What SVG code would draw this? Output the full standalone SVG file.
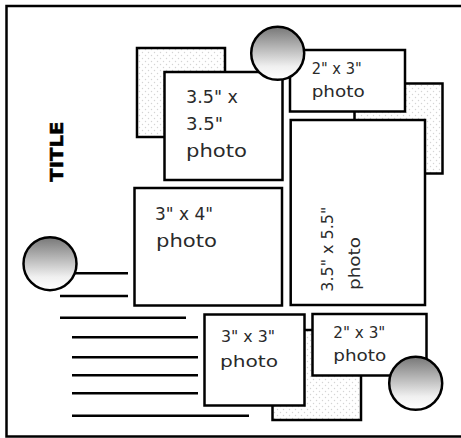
<svg xmlns="http://www.w3.org/2000/svg" width="461" height="438" viewBox="0 0 461 438">
<defs>
<style>
.mat{fill:url(#dots);stroke:#000;stroke-width:2.5}
.photo{fill:#fff;stroke:#000;stroke-width:2.5}
.emb{fill:url(#grad);stroke:#000;stroke-width:2.5}
.ln{stroke:#000;stroke-width:2.5;fill:none}
.t{font-family:"DejaVu Sans","Liberation Sans",sans-serif;fill:#2a2a2a}
.title{font-family:"DejaVu Sans","Liberation Sans",sans-serif;font-weight:bold;fill:#000;stroke:#000;stroke-width:0.5}
</style>
<pattern id="dots" width="6" height="6" patternUnits="userSpaceOnUse">
<rect width="6" height="6" fill="#fff"/>
<circle cx="1.5" cy="1.5" r="0.7" fill="#d4d4d4"/>
<circle cx="4.5" cy="4.5" r="0.7" fill="#d4d4d4"/>
</pattern>
<linearGradient id="grad" x1="0" y1="0" x2="0" y2="1">
<stop offset="0" stop-color="#777"/>
<stop offset="0.75" stop-color="#f0f0f0"/>
<stop offset="1" stop-color="#fff"/>
</linearGradient>
</defs>
<rect x="0" y="0" width="461" height="438" fill="#fff"/>
<rect id="border" x="6.5" y="6" width="456" height="430.5" fill="none" stroke="#000" stroke-width="2.5"/>

<g id="title"><text class="title" transform="translate(63,181.7) rotate(-90)" font-size="17.5" textLength="60" lengthAdjust="spacingAndGlyphs">TITLE</text></g>

<g id="connectors">
<line class="ln" x1="60" y1="273.3" x2="128" y2="273.3"/>
<line class="ln" x1="60" y1="296" x2="128" y2="296"/>
<line class="ln" x1="60" y1="317.7" x2="186" y2="317.7"/>
<line class="ln" x1="72" y1="337.3" x2="198" y2="337.3"/>
<line class="ln" x1="72" y1="357.3" x2="198" y2="357.3"/>
<line class="ln" x1="72" y1="375.3" x2="198" y2="375.3"/>
<line class="ln" x1="72" y1="393.3" x2="198" y2="393.3"/>
<line class="ln" x1="72" y1="415.7" x2="249" y2="415.7"/>
</g>

<g id="mat-topleft"><rect class="mat" x="137" y="48" width="88" height="89"/></g>
<g id="mat-right"><rect class="mat" x="354.5" y="83.5" width="88" height="90"/></g>
<g id="mat-bottom"><rect class="mat" x="272.5" y="330" width="88.5" height="90"/></g>

<g id="photo-35x35">
<rect class="photo" x="164.5" y="72" width="118" height="108"/>
<text class="t" x="186" y="103.3" font-size="18" textLength="52" lengthAdjust="spacingAndGlyphs">3.5" x</text>
<text class="t" x="186" y="130" font-size="18" textLength="37" lengthAdjust="spacingAndGlyphs">3.5"</text>
<text class="t" x="186" y="156.7" font-size="18" textLength="61" lengthAdjust="spacingAndGlyphs">photo</text>
</g>

<g id="photo-2x3-top">
<rect class="photo" x="290" y="50" width="115" height="61.5"/>
<text class="t" x="311.7" y="74" font-size="16" textLength="50" lengthAdjust="spacingAndGlyphs">2" x 3"</text>
<text class="t" x="311.7" y="96.7" font-size="16" textLength="53" lengthAdjust="spacingAndGlyphs">photo</text>
</g>

<g id="photo-35x55">
<rect class="photo" x="290.7" y="120" width="134.3" height="185"/>
<text class="t" transform="translate(333,291.7) rotate(-90)" font-size="16.5" textLength="85" lengthAdjust="spacingAndGlyphs">3.5" x 5.5"</text>
<text class="t" transform="translate(360,290) rotate(-90)" font-size="16.5" textLength="53" lengthAdjust="spacingAndGlyphs">photo</text>
</g>

<g id="photo-3x4">
<rect class="photo" x="134.5" y="188" width="147.5" height="117.5"/>
<text class="t" x="155" y="219.5" font-size="18" textLength="58" lengthAdjust="spacingAndGlyphs">3" x 4"</text>
<text class="t" x="156" y="246.7" font-size="18" textLength="61" lengthAdjust="spacingAndGlyphs">photo</text>
</g>

<g id="photo-3x3">
<rect class="photo" x="204.5" y="314.5" width="100" height="91"/>
<text class="t" x="221" y="341.5" font-size="16" textLength="54" lengthAdjust="spacingAndGlyphs">3" x 3"</text>
<text class="t" x="220" y="366.5" font-size="16" textLength="58" lengthAdjust="spacingAndGlyphs">photo</text>
</g>

<g id="photo-2x3-bottom">
<rect class="photo" x="312.5" y="314" width="114" height="61.5"/>
<text class="t" x="333.3" y="338.3" font-size="16" textLength="52" lengthAdjust="spacingAndGlyphs">2" x 3"</text>
<text class="t" x="333.3" y="360.5" font-size="16" textLength="53" lengthAdjust="spacingAndGlyphs">photo</text>
</g>

<g id="circle-top"><circle class="emb" cx="277.7" cy="53.3" r="26.5"/></g>
<g id="circle-left"><circle class="emb" cx="50" cy="263.7" r="26.5"/></g>
<g id="circle-bottom"><circle class="emb" cx="415.7" cy="383.3" r="26.5"/></g>
</svg>
